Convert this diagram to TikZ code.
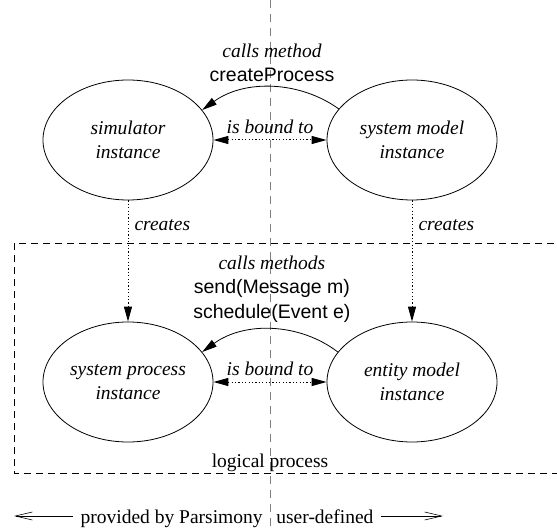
\documentclass[tikz,border=0pt]{standalone}
\usepackage{fontspec}
\setmainfont{Liberation Serif}
\setsansfont{Liberation Sans}
\usetikzlibrary{arrows.meta,shapes.geometric}

\newcommand\diafont{\fontsize{19.5}{24.5}\selectfont}

\tikzset{
  inst/.style={ellipse,draw,line width=0.8pt,minimum width=170pt,minimum height=120pt,
    inner sep=0pt,align=center,font=\diafont\itshape},
  headarrow/.style={-{Triangle[length=15pt,width=8pt]}},
  bothheads/.style={{Triangle[length=15pt,width=8pt]}-{Triangle[length=15pt,width=8pt]}},
  longbarb/.style={-{Straight Barb[length=17pt,width=8pt,line width=0.6pt]}},
  linklabel/.style={inner sep=1pt,font=\diafont\itshape},
}

\begin{document}
\begin{tikzpicture}[x=1pt,y=-1pt,line width=0.8pt,every node/.style={font=\diafont}]
\useasboundingbox (0,0) rectangle (557,529);

\begin{scope}[gray,dash pattern=on 8pt off 6pt] % split line
  \draw (270,0) -- (270,529);
\end{scope}

\begin{scope}[dash pattern=on 7pt off 5pt] % logical process box
  \draw (14,243) rectangle (570,473);
  \node[anchor=base] (lp) at (270,467) {logical process};
\end{scope}

% instances
\node[inst] (sim) at (128,140) {simulator\\instance};
\node[inst] (sm) at (412,140) {system model\\instance};
\node[inst] (sp) at (128,382) {system process\\instance};
\node[inst] (em) at (412,382) {entity model\\instance};

\begin{scope}[dash pattern=on 1.2pt off 2.2pt,line width=1pt] % creates and is bound to
  \draw[headarrow] (sim.south) -- (sp.north)
    node[linklabel,right=5pt,pos=0.2] {creates};
  \draw[headarrow] (sm.south) -- (em.north)
    node[linklabel,right=5pt,pos=0.2] {creates};
  \draw[bothheads] (sim.east) -- (sm.west)
    node[linklabel,above=5pt,midway] {is bound to};
  \draw[bothheads] (sp.east) -- (em.west)
    node[linklabel,above=5pt,midway] {is bound to};
\end{scope}

% method calls
\draw[headarrow] (sm.157) .. controls (300,81) and (245,79) .. (sim.22)
  node[above=4pt,pos=0.5,align=center,inner sep=1pt]
  {\textit{calls method}\\\textsf{createProcess}};
\draw[headarrow] (em.158) .. controls (300,323) and (245,321) .. (sp.22)
  node[above=6pt,pos=0.5,align=center,inner sep=1pt]
  {\textit{calls methods}\\\textsf{send(Message m)}\\\textsf{schedule(Event e)}};

% sides
\node[anchor=base east,inner sep=0pt] (prov) at (263,523) {provided by Parsimony};
\node[anchor=base west,inner sep=0pt] (user) at (276,523) {user-defined};
\coordinate (leftend) at (14,516);
\coordinate (rightend) at (443,516);
\draw[longbarb,line width=0.6pt] (prov.west |- leftend) ++(-7,0) -- (leftend);
\draw[longbarb,line width=0.6pt] (user.east |- rightend) ++(7,0) -- (rightend);

\end{tikzpicture}
\end{document}
